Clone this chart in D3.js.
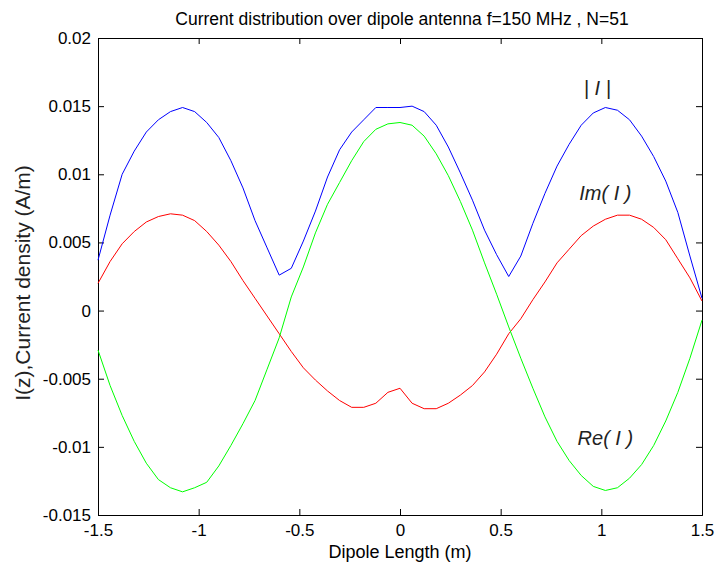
<!DOCTYPE html>
<html><head><meta charset="utf-8">
<script src="https://cdn.jsdelivr.net/npm/d3@7"></script>
<style>body{margin:0;background:#fff}svg{display:block}text{font-family:"Liberation Sans",Arial,sans-serif}</style>
</head><body><svg id="c" width="716" height="569"></svg>
<script>
const zPositions = [-1.50,-1.44,-1.38,-1.32,-1.26,-1.20,-1.14,-1.08,-1.02,-0.96,-0.90,-0.84,-0.78,-0.72,-0.66,-0.60,-0.54,-0.48,-0.42,-0.36,-0.30,-0.24,-0.18,-0.12,-0.06,0.00,0.06,0.12,0.18,0.24,0.30,0.36,0.42,0.48,0.54,0.60,0.66,0.72,0.78,0.84,0.90,0.96,1.02,1.08,1.14,1.20,1.26,1.32,1.38,1.44,1.50];
const absI = [0.0037,0.0070,0.0100,0.0117,0.0131,0.0140,0.0146,0.0149,0.0146,0.0138,0.0127,0.0110,0.0090,0.0066,0.0046,0.0026,0.0031,0.0051,0.0073,0.0098,0.0118,0.0131,0.0140,0.0149,0.0149,0.0149,0.0150,0.0146,0.0136,0.0120,0.0101,0.0081,0.0059,0.0041,0.0025,0.0040,0.0064,0.0086,0.0106,0.0122,0.0136,0.0145,0.0149,0.0147,0.0140,0.0128,0.0113,0.0095,0.0072,0.0040,0.0009];
const imI = [0.0020,0.0036,0.0049,0.0058,0.0065,0.0069,0.0071,0.0070,0.0066,0.0058,0.0048,0.0036,0.0022,0.0009,-0.0004,-0.0017,-0.0030,-0.0042,-0.0051,-0.0059,-0.0066,-0.0071,-0.0071,-0.0068,-0.0060,-0.0057,-0.0068,-0.0072,-0.0072,-0.0068,-0.0062,-0.0055,-0.0045,-0.0032,-0.0017,-0.0006,0.0008,0.0021,0.0035,0.0045,0.0055,0.0062,0.0067,0.0070,0.0070,0.0067,0.0061,0.0052,0.0038,0.0024,0.0007];
const reI = [-0.0029,-0.0055,-0.0077,-0.0096,-0.0112,-0.0124,-0.0130,-0.0133,-0.0130,-0.0126,-0.0114,-0.0099,-0.0083,-0.0066,-0.0043,-0.0020,0.0010,0.0032,0.0057,0.0078,0.0094,0.0110,0.0124,0.0133,0.0137,0.0138,0.0136,0.0128,0.0115,0.0099,0.0080,0.0059,0.0035,0.0012,-0.0012,-0.0035,-0.0057,-0.0078,-0.0096,-0.0110,-0.0121,-0.0129,-0.0132,-0.0130,-0.0123,-0.0113,-0.0099,-0.0081,-0.0060,-0.0035,-0.0007];
const xTicks = [-1.5,-1,-0.5,0,0.5,1,1.5];
const yTicks = [-0.015,-0.01,-0.005,0,0.005,0.01,0.015,0.02];
const seriesNames = ["| I |","Im( I )","Re( I )"];
const seriesColors = ["#0000ff","#ff0000","#00ff00"];
const labelPos = [[0.98,0.0158],[1.02,0.0081],[1.02,-0.0099]];

const svg = d3.select("#c");
const L=98,R=702,T=38,B=515;
const x = d3.scaleLinear().domain([-1.5,1.5]).range([L,R]);
const y = d3.scaleLinear().domain([-0.015,0.02]).range([B,T]);
const fmt = d => String(+d.toFixed(3));
const fs = 17;

svg.append("g").attr("transform",`translate(0,${B})`)
  .call(d3.axisBottom(x).tickValues(xTicks).tickSize(-6).tickPadding(9).tickFormat(fmt));
svg.append("g").attr("transform",`translate(0,${T})`)
  .call(d3.axisTop(x).tickValues(xTicks).tickSize(-6).tickFormat(""));
svg.append("g").attr("transform",`translate(${L},0)`)
  .call(d3.axisLeft(y).tickValues(yTicks).tickSize(-6).tickPadding(7).tickFormat(fmt));
svg.append("g").attr("transform",`translate(${R},0)`)
  .call(d3.axisRight(y).tickValues(yTicks).tickSize(-6).tickFormat(""));
svg.selectAll(".domain").attr("stroke","#000").attr("stroke-width",1);
svg.selectAll(".tick line").attr("stroke","#000");
svg.selectAll(".tick text").attr("font-size",fs).attr("fill","#000").style("font-family",'"Liberation Sans",Arial,sans-serif');

const line = d3.line().x((d,i)=>x(zPositions[i])).y(d=>y(d));
[absI,imI,reI].forEach((s,k)=>{
  svg.append("path").datum(s).attr("d",line).attr("fill","none")
    .attr("stroke",seriesColors[k]).attr("stroke-width",1);
});

seriesNames.forEach((n,k)=>{
  svg.append("text").attr("x",x(labelPos[k][0])).attr("y",y(labelPos[k][1]))
    .attr("text-anchor","middle").attr("font-size",20).attr("font-style","italic")
    .attr("fill","#222").text(n);
});

svg.append("text").attr("x",402).attr("y",25).attr("text-anchor","middle")
  .attr("font-size",17.5).text("Current distribution over dipole antenna f=150 MHz , N=51");
svg.append("text").attr("x",400).attr("y",558).attr("text-anchor","middle")
  .attr("font-size",18).text("Dipole Length (m)");
svg.append("text").attr("transform",`translate(30,283) rotate(-90)`)
  .attr("text-anchor","middle").attr("font-size",21).attr("fill","#222").text("I(z),Current density (A/m)");
</script></body></html>
